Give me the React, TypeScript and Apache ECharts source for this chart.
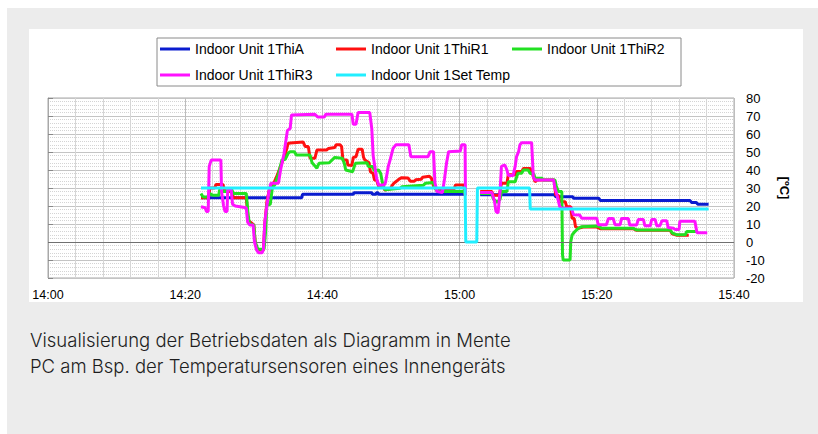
import React, { useEffect, useRef } from "react";
import * as echarts from "echarts";

// x = minutes after 14:00
const tickLabels = ["14:00", "14:20", "14:40", "15:00", "15:20", "15:40"];
const seriesNames = [
  "Indoor Unit 1ThiA",
  "Indoor Unit 1ThiR1",
  "Indoor Unit 1ThiR2",
  "Indoor Unit 1ThiR3",
  "Indoor Unit 1Set Temp",
];

const thiATime = [22.3, 37.0, 37.1, 44.5, 44.6, 47.2, 47.3, 47.8, 47.9, 48.1, 48.2, 60.8, 61.9, 63.0, 73.8, 74.0, 76.5, 76.6, 80.3, 80.5, 93.6, 93.8, 94.5, 94.7, 96.3];
const thiAVal = [24.6, 24.6, 26.5, 26.5, 27.4, 27.4, 26.5, 26.5, 27.4, 27.4, 26.5, 26.5, null, 26.3, 26.3, 25.2, 25.2, 24.3, 24.3, 23, 23, 22, 22, 21, 21];

const thiR1Time = [22.3, 23.4, 23.6, 24.3, 24.5, 25.5, 25.8, 26.8, 27.0, 28.9, 29.2, 30.0, 30.2, 30.5, 31.4, 31.6, 31.9, 32.2, 32.5, 32.9, 33.3, 33.8, 34.3, 34.6, 35.0, 35.3, 37.2, 37.5, 37.95, 38.2, 38.9, 39.2, 40.6, 40.9, 41.8, 42.0, 42.6, 42.8, 43.0, 43.6, 43.7, 44.3, 44.5, 44.9, 45.2, 45.8, 46.0, 46.2, 46.8, 47.0, 47.4, 47.6, 47.9, 48.2, 48.9, 49.1, 49.9, 50.1, 50.4, 50.7, 51.0, 51.5, 52.5, 52.8, 53.4, 53.6, 54.4, 54.6, 55.6, 55.9, 56.2, 56.6, 56.9, 59.2, 59.4, 60.6, 60.8, 61.9, 63.0, 64.7, 64.9, 65.8, 66.1, 66.9, 67.1, 68.1, 68.3, 69.05, 69.3, 70.3, 70.6, 71.0, 71.3, 73.8, 74.0, 74.4, 74.6, 75.4, 75.6, 76.2, 76.4, 76.7, 76.9, 77.3, 78.0, 80.0, 80.5, 85.3, 85.8, 90.7, 91.0, 91.7, 93.4];
const thiR1Val = [24.6, 24.6, 30, 30, 32, 32, 28, 28, 24.6, 24.6, 12, 9.5, 0, -4.5, -4.5, 10, 22, 28, 31, 32.6, 36, 41, 46, 49, 54.7, 55, 55.5, 53, 53, 46.5, 46.5, 51.1, 51.1, 52, 52.5, 54, 54, 53, 45.5, 45.5, 42.8, 42.5, 47, 47.4, 51.5, 51.5, 47, 45.5, 44, 39, 38, 34.4, 34.4, 31, 30.5, 28.9, 29.5, 31, 32.6, 33.5, 34.4, 35.7, 35.5, 33.8, 33.8, 34.6, 34.8, 36, 36.5, 35.4, 31, 29, 28.5, 29.5, 31.7, 31.7, 26, null, 28, 28, 26, 26, 32.6, 32.6, 37.3, 37.3, 39.1, 39.1, 40.9, 40.9, 38, 33.5, 34.4, 34.4, 26.1, 26, 22.4, 22.4, 19.6, 19.6, 13.2, 13, 8.5, 7.6, 8.3, 8.3, 7.4, 7.4, 6.5, 6.5, 4.5, 3.7, 3.7];

const thiR2Time = [22.3, 22.6, 23.3, 23.6, 24.0, 24.9, 25.0, 25.5, 26.1, 26.2, 26.8, 27.0, 28.9, 29.2, 29.4, 30.0, 30.2, 30.6, 31.5, 31.7, 31.9, 32.4, 32.7, 33.1, 33.6, 34.1, 34.6, 35.0, 35.3, 35.9, 36.2, 38.2, 38.5, 39.2, 39.5, 41.0, 41.8, 42.9, 43.2, 43.4, 44.4, 44.8, 46.5, 46.7, 47.3, 47.6, 48.2, 48.5, 48.8, 49.1, 51.3, 51.6, 54.7, 55.0, 56.2, 56.4, 56.8, 60.6, 60.8, 61.9, 63.0, 64.7, 64.9, 65.4, 65.9, 66.1, 66.9, 67.1, 68.1, 68.3, 68.5, 69.05, 69.3, 70.0, 70.3, 70.8, 71.0, 72.0, 72.2, 73.9, 74.1, 74.4, 74.9, 75.0, 75.1, 76.1, 76.2, 76.4, 76.8, 77.3, 77.8, 80.3, 80.7, 85.3, 85.8, 90.7, 91.0, 91.7, 92.9, 93.1, 94.5];
const thiR2Val = [27, 25, 25, 27, 26, 26, 29, 28, 28, 29, 29, 27, 27, 14, 10, 9.5, 0, -4, -4, 5, 20.6, 21, 30, 32, 38, 45.5, 46, 49.3, 50.2, 50.2, 48.3, 48.3, 44, 41, 43.7, 44, 47, 46.5, 43.7, 40, 39, 43.7, 44, 42, 42, 39.5, 40, 38, 32, 29, 29.8, 30.7, 31.5, 32.6, 33, 30, 28, 28, 27, null, 27, 27, 24, 22, 23.7, 28, 28, 33.5, 33.5, 36, 38.2, 38.2, 40, 40, 38, 38, 35.4, 35.4, 34.4, 34.4, 31, 28, 28, -7, -10, -10, 0, 3.9, 5.8, 7.6, 8.5, 8.9, 7.6, 7.6, 6.7, 6.7, 5, 4, 4, 5.8, 5.8];

const thiR3Time = [22.3, 22.9, 23.1, 23.35, 23.5, 23.8, 25.2, 25.3, 25.6, 25.8, 26.1, 26.2, 26.7, 26.9, 27.3, 28.9, 29.1, 29.4, 29.9, 30.1, 30.4, 30.7, 31.2, 31.4, 31.6, 31.9, 32.2, 32.5, 33.6, 33.9, 34.4, 34.9, 35.3, 35.5, 38.9, 39.3, 40.3, 40.5, 44.3, 44.5, 44.9, 45.2, 46.9, 47.2, 47.4, 47.9, 48.2, 49.0, 49.2, 49.6, 49.9, 50.3, 50.7, 52.6, 52.9, 55.4, 55.7, 56.2, 56.4, 56.7, 57.5, 57.8, 58.1, 58.4, 60.1, 60.3, 60.8, 60.85, 61.9, 63.0, 64.7, 64.9, 65.1, 65.3, 65.6, 65.9, 66.1, 66.6, 66.9, 67.1, 67.8, 68.1, 68.3, 68.6, 68.8, 69.05, 70.5, 70.75, 71.0, 73.7, 73.9, 74.2, 74.6, 74.9, 76.3, 76.6, 77.5, 77.8, 80.0, 80.2, 81.4, 81.7, 82.4, 82.65, 83.4, 83.6, 84.6, 84.8, 85.8, 86.05, 86.8, 87.0, 87.8, 88.0, 88.5, 88.75, 89.2, 89.5, 90.2, 90.4, 91.2, 91.4, 92.0, 92.1, 94.3, 94.6, 96.1];
const thiR3Val = [19.6, 19, 17, 17, 42, 45.6, 45.6, 28, 20, 17, 17, 29, 29, 21, 20, 19, 11, 9.5, 9.5, 0, -4.4, -6, -6, -4.4, 11, 20, 28, 32.7, 32.7, 40, 49, 62, 63, 70.6, 71, 69.5, 69.5, 71, 71, 65.4, 65.4, 72, 72, 63, 48, 35.4, 31.7, 31.7, 33, 42, 46, 52, 54, 54, 47.4, 47.4, 50.2, 50.2, 33, 28, 27.5, 35, 44, 50.2, 50.5, 54, 54, 26, null, 27.5, 27.5, 25, 22.4, 17, 16, 28, 42, 42.8, 40, 37, 37, 42, 47.4, 50.2, 54, 55.2, 55.2, 36, 34.4, 34.4, 30, 26, 19.6, 18.7, 18.7, 15.2, 15, 13.2, 13.2, 9.6, 9.6, 13, 13, 9.6, 9.6, 13, 13, 9.4, 9.4, 12.5, 12.5, 9, 9, 12.5, 12.5, 9, 9, 11.8, 11.8, 8, 7.6, 7, 7, 11.5, 11.5, 5.2, 5.2];

const setTempTime = [22.3, 60.8, 60.9, 62.5, 62.6, 70.2, 70.3, 96.3];
const setTempVal = [30, 30, 0, 0, 30, 30, 18.3, 18.3];

const colors = ["#0a1ccf", "#ff1010", "#22e022", "#ff12ff", "#22eeff"];

const zip = (t: number[], v: (number | null)[]) =>
  t.map((x, i) => [x, v[i] === null ? "-" : v[i]]);

const fmtTime = (m: number) => {
  const h = 14 + Math.floor(m / 60);
  const mm = Math.round(m % 60);
  return `${h}:${mm < 10 ? "0" + mm : mm}`;
};

export default function App() {
  const ref = useRef<HTMLDivElement>(null);
  useEffect(() => {
    if (!ref.current) return;
    const chart = echarts.init(ref.current, null, { renderer: "svg" });
    const data = [
      zip(thiATime, thiAVal),
      zip(thiR1Time, thiR1Val),
      zip(thiR2Time, thiR2Val),
      zip(thiR3Time, thiR3Val),
      zip(setTempTime, setTempVal),
    ];
    chart.setOption({
      animation: false,
      backgroundColor: "#ffffff",
      textStyle: { fontFamily: "Liberation Sans, Arial, sans-serif" },
      legend: {
        left: 128,
        top: 9,
        width: 530,
        padding: [3, 3, 3, 3],
        itemGap: 10,
        itemWidth: 30,
        itemHeight: 3,
        icon: "rect",
        borderColor: "#8a8a8a",
        borderWidth: 1,
        selectedMode: false,
        textStyle: {
          fontSize: 14,
          color: "#000",
          width: 131,
          lineHeight: 16,
          fontFamily: "Liberation Sans, Arial, sans-serif",
        },
        data: seriesNames,
      },
      grid: {
        left: 19,
        right: 69,
        top: 69,
        bottom: 24,
        show: true,
        borderColor: "#a8a8a8",
        borderWidth: 1,
        backgroundColor: "#fff",
      },
      xAxis: {
        type: "value",
        min: 0,
        max: 100,
        interval: 20,
        axisLine: { show: false, onZero: false },
        axisTick: { show: false },
        axisLabel: {
          color: "#000",
          fontSize: 12.5,
          margin: 10,
          formatter: (v: number) => tickLabels[Math.round(v / 20)] ?? fmtTime(v),
        },
        splitLine: { show: true, lineStyle: { color: "#bdbdbd", width: 1 } },
        minorTick: { show: false, splitNumber: 5 },
        minorSplitLine: { show: true, lineStyle: { color: "#d6d6d6", width: 1 } },
      },
      yAxis: {
        type: "value",
        position: "right",
        min: -20,
        max: 80,
        interval: 10,
        name: "[ºC]",
        nameLocation: "middle",
        nameRotate: -90,
        nameGap: 44,
        nameTextStyle: { fontSize: 13, fontWeight: "bold", color: "#000" },
        axisLine: { show: true, lineStyle: { color: "#a8a8a8" } },
        axisTick: { show: true, inside: false, length: 5, lineStyle: { color: "#888" } },
        axisLabel: { color: "#000", fontSize: 13, margin: 12 },
        splitLine: { show: true, lineStyle: { color: "#c4c4c4", width: 1 } },
        minorTick: { show: false, splitNumber: 5 },
        minorSplitLine: { show: true, lineStyle: { color: "#d4d4d4", width: 1, type: "dotted" } },
      },
      series: seriesNames.map((name, i) => ({
        name,
        type: "line",
        data: data[i],
        showSymbol: false,
        symbol: "none",
        connectNulls: false,
        color: colors[i],
        lineStyle: { color: colors[i], width: 3 },
        z: 2 + i,
        ...(i === 0
          ? {
              markLine: {
                silent: true,
                symbol: "none",
                label: { show: false },
                lineStyle: { color: "#707070", width: 1, type: "solid" },
                data: [{ yAxis: 0 }],
              },
            }
          : {}),
      })),
    });
    return () => chart.dispose();
  }, []);

  return (
    <div style={{ position: "absolute", left: 0, top: 0, width: 818, height: 434 }}>
      <div
        style={{
          position: "absolute",
          left: 7,
          top: 8,
          width: 811,
          height: 426,
          background: "#ececec",
        }}
      />
      <div
        ref={ref}
        style={{ position: "absolute", left: 29, top: 29, width: 774, height: 273, background: "#fff" }}
      />
      <div
        style={{
          position: "absolute",
          left: 30,
          top: 327,
          fontFamily: "Inter, 'Noto Sans', sans-serif",
          fontSize: 18.5,
          fontWeight: 300,
          lineHeight: "26px",
          color: "#1e1e1e",
          whiteSpace: "nowrap",
        }}
      >
        <div>Visualisierung der Betriebsdaten als Diagramm in Mente</div>
        <div>PC am Bsp. der Temperatursensoren eines Innengeräts</div>
      </div>
    </div>
  );
}
